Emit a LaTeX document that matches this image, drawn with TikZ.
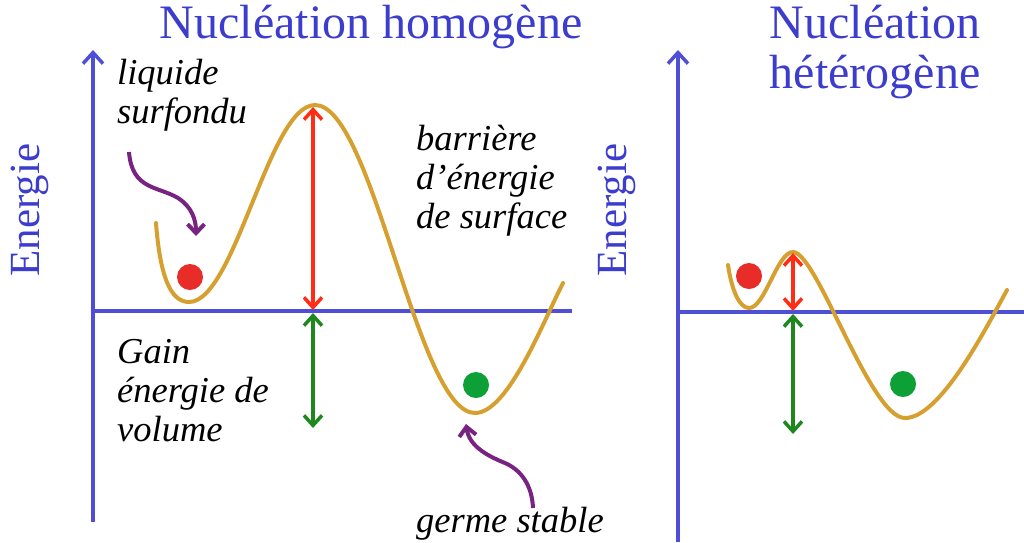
\documentclass[tikz,border=0pt]{standalone}
\usepackage{fontspec}
\setmainfont{Liberation Serif}
\usetikzlibrary{arrows.meta}
\definecolor{axisblue}{RGB}{78,78,215}
\definecolor{titleblue}{RGB}{60,60,205}
\definecolor{curvecol}{RGB}{214,160,48}
\definecolor{barriercol}{RGB}{255,45,20}
\definecolor{reddot}{RGB}{232,44,40}
\definecolor{gaincol}{RGB}{30,135,30}
\definecolor{greendot}{RGB}{12,160,55}
\definecolor{pointercol}{RGB}{120,35,130}
\begin{document}
\begin{tikzpicture}[x=1pt,y=-1pt,
  axisline/.style={draw=axisblue,line width=3.5pt},
  axistip/.style={-{Straight Barb[length=11pt,width=20pt]}},
  energy/.style={draw=curvecol,line width=4pt,line cap=round},
  dblarrow/.style={line width=3.5pt,{Straight Barb[length=10pt,width=18pt]}-{Straight Barb[length=10pt,width=18pt]}},
  pointer/.style={draw=pointercol,line width=4pt,-{Straight Barb[length=9pt,width=17pt]}},
  ball/.style={circle,inner sep=0pt,minimum size=26pt},
  titletext/.style={text=titleblue,font=\fontsize{48}{50}\selectfont,inner sep=0pt},
  axislabel/.style={text=titleblue,font=\fontsize{43}{46}\selectfont,inner sep=0pt,rotate=90},
  note/.style={font=\fontsize{36.5}{39}\selectfont\itshape,align=left,inner sep=0pt,anchor=west}]
\useasboundingbox (0,0) rectangle (1024,542);

% ---------- left panel ----------
\coordinate (LyB) at (93,522);
\coordinate (LyT) at (93,50);
\coordinate (LxL) at (93,311);
\coordinate (LxR) at (572,311);
\draw[axisline,axistip] (LyB) -- (LyT);
\draw[axisline] (LxL) -- (LxR);

\coordinate (Ls) at (156,223);
\coordinate (Lm1) at (189,302);
\coordinate (Lmax) at (315,105);
\coordinate (Lm2) at (475,413);
\coordinate (Le) at (563,283);
\draw[energy] (Ls) .. controls (160,275) and (170,302) .. (Lm1)
  .. controls (235,302) and (269,105) .. (Lmax)
  .. controls (373,105) and (417,413) .. (Lm2)
  .. controls (508,413) and (543,322) .. (Le);

\node[ball,fill=reddot] (Lred) at (190,277) {};
\node[ball,fill=greendot] (Lgreen) at (476,385) {};

\coordinate (LbT) at (313,107);
\coordinate (Lb0) at (313,310);
\coordinate (Lg0) at (313,313);
\coordinate (LgB) at (313,428);
\draw[dblarrow,draw=barriercol] (LbT) -- (Lb0);
\draw[dblarrow,draw=gaincol] (Lg0) -- (LgB);

\node[titletext] (Ltitle) at (371,27) {Nucléation homogène};
\node[axislabel] (Lenergie) at (30,210) {Energie};

\node[note] (liq) at (117,95) {liquide\\surfondu};
\node[note] (barr) at (416,181) {barrière\\d’énergie\\de surface};
\node[note] (gain) at (117,391) {Gain\\énergie de\\volume};
\node[note] (germe) at (416,524) {germe stable};

\coordinate (P1s) at (129,152);
\coordinate (P1e) at (196,236);
\draw[pointer] (P1s) .. controls (132,190) and (158,186) .. (178,198)
  .. controls (192,207) and (196,220) .. (P1e);
\coordinate (P2s) at (533,508);
\coordinate (P2e) at (466,424);
\draw[pointer] (P2s) .. controls (532,485) and (521,470) .. (505,463)
  .. controls (485,455) and (469,445) .. (P2e);

% ---------- right panel ----------
\coordinate (RyB) at (678,542);
\coordinate (RyT) at (678,50);
\coordinate (RxL) at (678,312);
\coordinate (RxR) at (1024,312);
\draw[axisline,axistip] (RyB) -- (RyT);
\draw[axisline] (RxL) -- (RxR);

\coordinate (Rs) at (728,265);
\coordinate (Rm1) at (749,308);
\coordinate (Rmax) at (793,252);
\coordinate (Rm2) at (905,418);
\coordinate (Re) at (1007,290);
\draw[energy] (Rs) .. controls (732,292) and (740,308) .. (Rm1)
  .. controls (765,308) and (777,252) .. (Rmax)
  .. controls (817,252) and (870,418) .. (Rm2)
  .. controls (940,418) and (985,330) .. (Re);

\node[ball,fill=reddot] (Rred) at (749,276) {};
\node[ball,fill=greendot] (Rgreen) at (903,384) {};

\coordinate (RbT) at (793,253);
\coordinate (Rb0) at (793,311);
\coordinate (Rg0) at (793,314);
\coordinate (RgB) at (793,434);
\draw[dblarrow,draw=barriercol] (RbT) -- (Rb0);
\draw[dblarrow,draw=gaincol] (Rg0) -- (RgB);

\node[titletext,align=center] (Rtitle) at (875,52) {Nucléation\\hétérogène};
\node[axislabel] (Renergie) at (617,210) {Energie};
\end{tikzpicture}
\end{document}
